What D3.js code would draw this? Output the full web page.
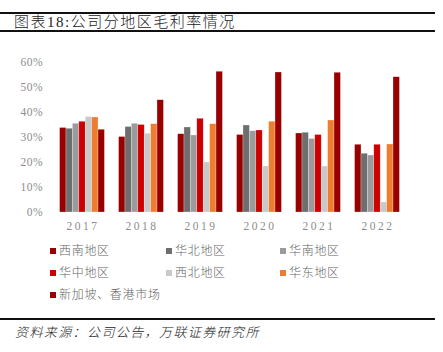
<!DOCTYPE html>
<html><head><meta charset="utf-8">
<script src="https://cdn.jsdelivr.net/npm/d3@7"></script>
<style>
html,body{margin:0;padding:0;background:#fff;}
svg{display:block;font-family:"Liberation Serif","Noto Sans CJK SC",serif;}
</style></head>
<body><div id="chart"></div>
<script>
// 年份与地区
const years = ["2017", "2018", "2019", "2020", "2021", "2022"];
const regions = ["西南地区", "华北地区", "华南地区", "华中地区", "西北地区", "华东地区", "新加坡、香港市场"];
const colors = ["#990000", "#6e6e6e", "#9b9b9b", "#cc0000", "#c9c9c9", "#ed7d31", "#990000"];

// 毛利率(%)，每个地区一行，按年份排列
const xinan   = [33.8, 30.2, 31.3, 31.0, 31.6, 27.1];
const huabei  = [33.5, 34.2, 34.0, 34.8, 31.9, 23.5];
const huanan  = [35.5, 35.5, 30.8, 32.5, 29.4, 22.8];
const huazhong= [36.3, 35.0, 37.5, 32.8, 31.0, 27.1];
const xibei   = [38.2, 31.5, 20.0, 18.4, 18.4, 4.0];
const huadong = [38.0, 35.3, 35.3, 36.3, 36.8, 27.2];
const xinggang= [33.1, 44.9, 56.3, 56.0, 55.9, 54.1];
const series = [xinan, huabei, huanan, huazhong, xibei, huadong, xinggang];
const yTicks = [0, 10, 20, 30, 40, 50, 60];

const W = 443, H = 352;
const svg = d3.select("#chart").append("svg").attr("width", W).attr("height", H);

// 标题与上下分隔线
svg.append("rect").attr("x", 0).attr("y", 12).attr("width", 435).attr("height", 2).attr("fill", "#111");
svg.append("rect").attr("x", 0).attr("y", 30).attr("width", 435).attr("height", 2).attr("fill", "#111");
svg.append("text").attr("x", 14).attr("y", 27).attr("font-size", 15).attr("fill", "#222")
  .attr("font-weight", 300).attr("letter-spacing", 1.5)
  .text("图表18:公司分地区毛利率情况");

const x0 = d3.scaleBand().domain(years).range([52.5, 406.5]).paddingInner(0.24).paddingOuter(0.12);
const x1 = d3.scaleBand().domain(d3.range(regions.length)).range([0, x0.bandwidth()]);
const y = d3.scaleLinear().domain([0, 60]).range([212, 62]);

// y 轴刻度
svg.append("g").selectAll("text").data(yTicks).join("text")
  .attr("x", 43).attr("y", d => y(d) + 4).attr("text-anchor", "end")
  .attr("font-size", 11.5).attr("fill", "#8c8c8c").attr("letter-spacing", 0.5)
  .text(d => d + "%");

// x 轴标签
svg.append("g").selectAll("text").data(years).join("text")
  .attr("x", d => x0(d) + x0.bandwidth() / 2 + 1).attr("y", 230).attr("text-anchor", "middle")
  .attr("font-size", 11.5).attr("fill", "#8c8c8c").attr("letter-spacing", 2.5)
  .text(d => d);

// 柱子
const groups = svg.append("g").selectAll("g").data(years).join("g")
  .attr("transform", d => `translate(${x0(d)},0)`);
groups.selectAll("rect").data((d, i) => series.map((s, k) => ({ k, v: s[i] }))).join("rect")
  .attr("x", d => x1(d.k)).attr("width", x1.bandwidth())
  .attr("y", d => y(d.v)).attr("height", d => y(0) - y(d.v))
  .attr("fill", d => colors[d.k])
  .attr("stroke", "#fff").attr("stroke-opacity", 0.5).attr("stroke-width", 0.5);

// 图例
const legendCols = [50, 166, 280], legendRows = [254, 276, 298];
const lg = svg.append("g").selectAll("g").data(regions).join("g")
  .attr("transform", (d, i) => `translate(${legendCols[i % 3]},${legendRows[Math.floor(i / 3)]})`);
lg.append("rect").attr("x", 0).attr("y", -6).attr("width", 6).attr("height", 6)
  .attr("fill", (d, i) => colors[i]);
lg.append("text").attr("x", 9).attr("y", 1).attr("font-size", 12).attr("fill", "#666")
  .attr("font-weight", 300).attr("letter-spacing", 0.7).text(d => d);

// 资料来源
svg.append("rect").attr("x", 0).attr("y", 318).attr("width", 435).attr("height", 2).attr("fill", "#111");
svg.append("text").attr("x", 15).attr("y", 337).attr("font-size", 13).attr("font-style", "italic")
  .attr("font-weight", 300).attr("letter-spacing", 1.4)
  .attr("fill", "#222").text("资料来源：公司公告，万联证券研究所");
</script>
</body></html>
